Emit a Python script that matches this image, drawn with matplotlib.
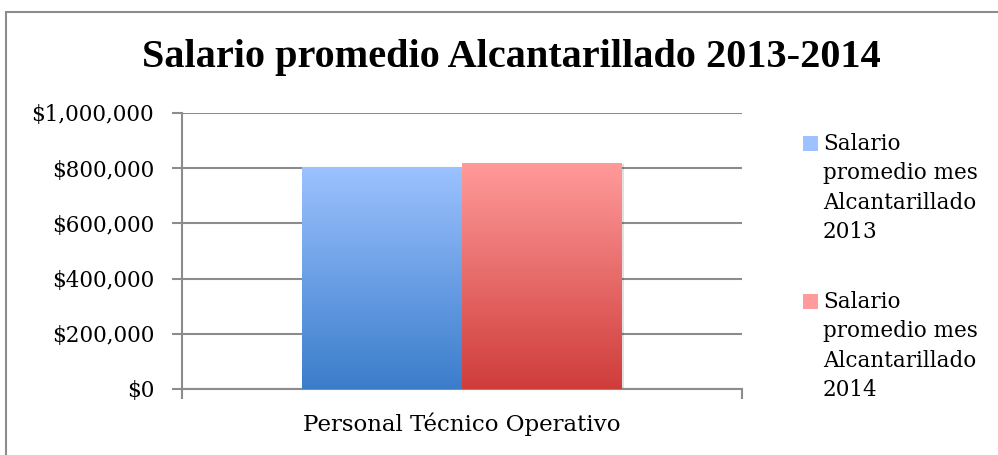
import matplotlib.pyplot as plt
import matplotlib.patches as mpatches
import matplotlib.ticker as mticker
import numpy as np
from matplotlib.colors import LinearSegmentedColormap

# data
categoria = ["Personal Técnico Operativo"]
series = ["Salario\npromedio mes\nAlcantarillado\n2013",
          "Salario\npromedio mes\nAlcantarillado\n2014"]
salario_2013 = [806000]
salario_2014 = [820000]
yticks = [0, 200000, 400000, 600000, 800000, 1000000]

plt.rcParams['font.family'] = ['DejaVu Serif']

fig = plt.figure(figsize=(9.98, 4.55), dpi=100)
ax = fig.add_axes([182/998, 1-389/455, 560/998, 276/455])

# outer chart border
fig.patches.append(mpatches.Rectangle((6/998, -0.1), 1.1, 1 - 12/455 + 0.1,
                                      transform=fig.transFigure, fill=False,
                                      edgecolor='#8c8c8c', lw=1.5))

blue_cm = LinearSegmentedColormap.from_list('b', ['#3b7dcb', '#9cc2ff'])
red_cm = LinearSegmentedColormap.from_list('r', ['#cf3d3b', '#ff9b9a'])

w = 0.2857
x = np.arange(len(categoria))
grad = np.linspace(0, 1, 256).reshape(-1, 1)

def gradient_bars(xs, vals, cmap):
    bars = ax.bar(xs, vals, width=w, color='none', zorder=3)
    for b in bars:
        x0, y0 = b.get_x(), b.get_y()
        bw, bh = b.get_width(), b.get_height()
        # soft shadow
        ax.add_patch(mpatches.Rectangle((x0 + 0.004, y0), bw, bh - 4000,
                                        facecolor='#000000', alpha=0.12,
                                        lw=0, zorder=2))
        im = ax.imshow(grad, cmap=cmap, aspect='auto', origin='lower',
                       extent=[x0, x0 + bw, y0, y0 + bh], zorder=3)
        im.set_clip_path(b)
    return bars

gradient_bars(x - w/2, salario_2013, blue_cm)
gradient_bars(x + w/2, salario_2014, red_cm)

ax.set_xlim(-0.5, 0.5)
ax.set_ylim(0, 1000000)
ax.set_yticks(yticks)
ax.yaxis.set_major_formatter(mticker.FuncFormatter(lambda v, p: '${:,.0f}'.format(v)))
ax.yaxis.grid(True, color='#8c8c8c', lw=1.5, zorder=1)
ax.set_xticks(x)
ax.set_xticklabels(categoria)
ax.set_xticks([-0.5, 0.5], minor=True)
ax.tick_params(axis='x', which='major', length=0, pad=17, labelsize=16.5)
ax.tick_params(axis='x', which='minor', length=7, color='#8c8c8c', width=1.5)
ax.tick_params(axis='y', length=7, color='#8c8c8c', width=1.5, pad=13, labelsize=15.5)
for s in ['top', 'right']:
    ax.spines[s].set_visible(False)
for s in ['left', 'bottom']:
    ax.spines[s].set_color('#8c8c8c')
    ax.spines[s].set_linewidth(1.5)

fig.text(511/998, 1-57/455, "Salario promedio Alcantarillado 2013-2014",
         ha='center', va='center', fontsize=29, fontweight='bold',
         family='Liberation Serif')

# legend drawn by hand
leg_colors = [('#3b7dcb', '#9cc2ff'), ('#cf3d3b', '#ff9b9a')]
tops = [136, 294]
for name, (c0, c1), ty in zip(series, leg_colors, tops):
    fig.patches.append(mpatches.Rectangle((803/998, 1-(ty+15)/455), 15/998, 15/455,
                                          transform=fig.transFigure,
                                          facecolor=c1, edgecolor='none'))
    fig.text(823/998, 1-(ty-3)/455, name, ha='left', va='top',
             fontsize=15.5, linespacing=1.43)

fig.savefig('out.png', dpi=100)
